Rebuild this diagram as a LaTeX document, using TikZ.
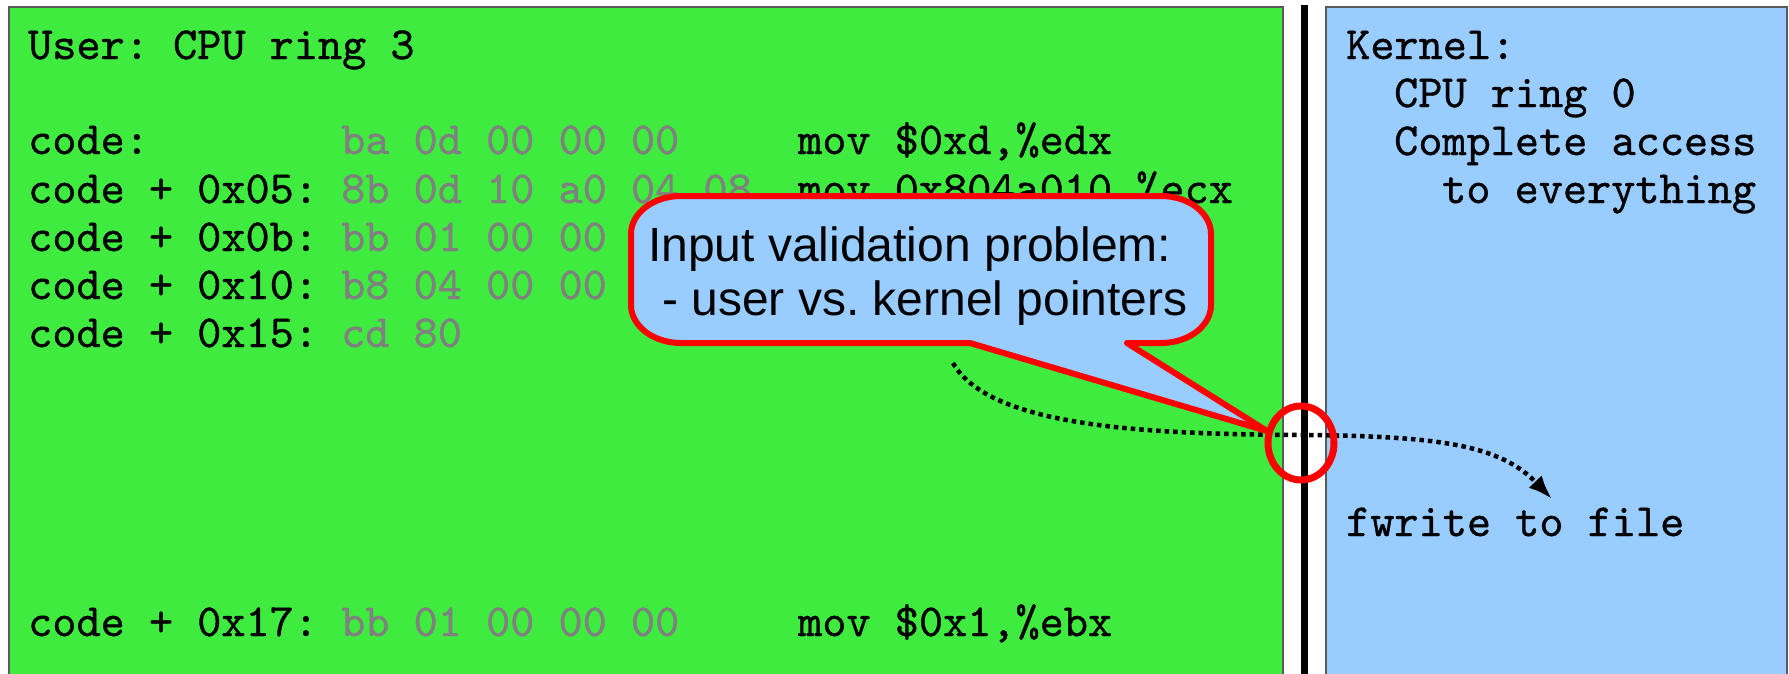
\documentclass[tikz,border=0pt]{standalone}
\usepackage{fontspec}
\setsansfont{Liberation Sans}
\newfontfamily\codefont{lmmono10-regular.otf}[FakeBold=0.8]
\usetikzlibrary{arrows.meta}
\definecolor{usergreen}{RGB}{64,235,64}
\definecolor{kernblue}{RGB}{153,204,255}
\definecolor{bytegray}{RGB}{128,128,128}
\definecolor{framegray}{RGB}{90,90,90}
\definecolor{alertred}{RGB}{255,0,0}
\begin{document}
\frenchspacing
\begin{tikzpicture}[x=1pt,y=1pt,
  code/.style={anchor=base west, inner sep=0pt, font=\codefont\fontsize{46}{48}\selectfont},
  bytes/.style={code, text=bytegray},
  region/.style={draw=framegray, line width=1.2pt},
  callout/.style={draw=alertred, fill=kernblue, line width=6pt, line join=round},
  callouttext/.style={anchor=base west, inner sep=0pt, align=left, font=\sffamily\fontsize{48}{54}\selectfont},
  ringmark/.style={draw=alertred, line width=7pt},
  flow/.style={line width=4.5pt, dash pattern=on 4.5pt off 4pt, -{Latex[length=24pt,width=18pt]}}]
\useasboundingbox (0,0) rectangle (1789,-673);
\clip (0,0) rectangle (1789,-673);

% user space and kernel space regions
\fill[white] (0,0) rectangle (1789,-673);
\draw[region, fill=usergreen] (9,-7) rectangle (1283,-700);
\draw[region, fill=kernblue] (1326,-7) rectangle (1787,-700);
\fill[black] (1301,-5) rectangle (1308,-700);

% user code listing
\node[code] (utitle) at (28,-59) {User: CPU ring 3};

\node[code] (a0) at (28,-154) {code:};
\node[bytes] (b0) at (341,-154) {ba 0d 00 00 00};
\node[code] (m0) at (798,-154) {mov \$0xd,\%edx};

\node[code] (a1) at (28,-203) {code + 0x05:};
\node[bytes] (b1) at (341,-203) {8b 0d 10 a0 04 08};
\node[code] (m1) at (798,-203) {mov 0x804a010,\%ecx};

\node[code] (a2) at (28,-251) {code + 0x0b:};
\node[bytes] (b2) at (341,-251) {bb 01 00 00};

\node[code] (a3) at (28,-299) {code + 0x10:};
\node[bytes] (b3) at (341,-299) {b8 04 00 00};

\node[code] (a4) at (28,-347) {code + 0x15:};
\node[bytes] (b4) at (341,-347) {cd 80};

\node[code] (a5) at (28,-636) {code + 0x17:};
\node[bytes] (b5) at (341,-636) {bb 01 00 00 00};
\node[code] (m5) at (798,-636) {mov \$0x1,\%ebx};

% kernel description
\node[code] (k0) at (1346,-59) {Kernel:};
\node[code] (k1) at (1394,-107) {CPU ring 0};
\node[code] (k2) at (1394,-155) {Complete access};
\node[code] (k3) at (1442,-203) {to everything};
\node[code] (kf) at (1346,-536) {fwrite to file};

% call path crossing the boundary
\coordinate (src) at (953,-363);
\coordinate (cross) at (1301,-435);
\coordinate (dst) at (1552,-499);
\draw[flow] (src) .. controls (990,-428) and (1150,-434) .. (cross)
  .. controls (1440,-436) and (1500,-445) .. (dst);

% speech bubble
\draw[callout] (970,-343) -- (1267,-431) -- (1127,-343) -- (1161,-343)
  arc[start angle=-90, end angle=0, x radius=50, y radius=38] -- (1211,-234)
  arc[start angle=0, end angle=90, x radius=50, y radius=38] -- (681,-196)
  arc[start angle=90, end angle=180, x radius=50, y radius=38] -- (631,-305)
  arc[start angle=180, end angle=270, x radius=50, y radius=38] -- cycle;
\node[callouttext] (note) at (648,-315) {Input validation problem:\\\hspace*{14pt}- user vs. kernel pointers};

% highlighted boundary crossing
\coordinate (ringc) at (1301,-443);
\draw[ringmark] (ringc) ellipse[x radius=33, y radius=37];
\end{tikzpicture}
\end{document}
